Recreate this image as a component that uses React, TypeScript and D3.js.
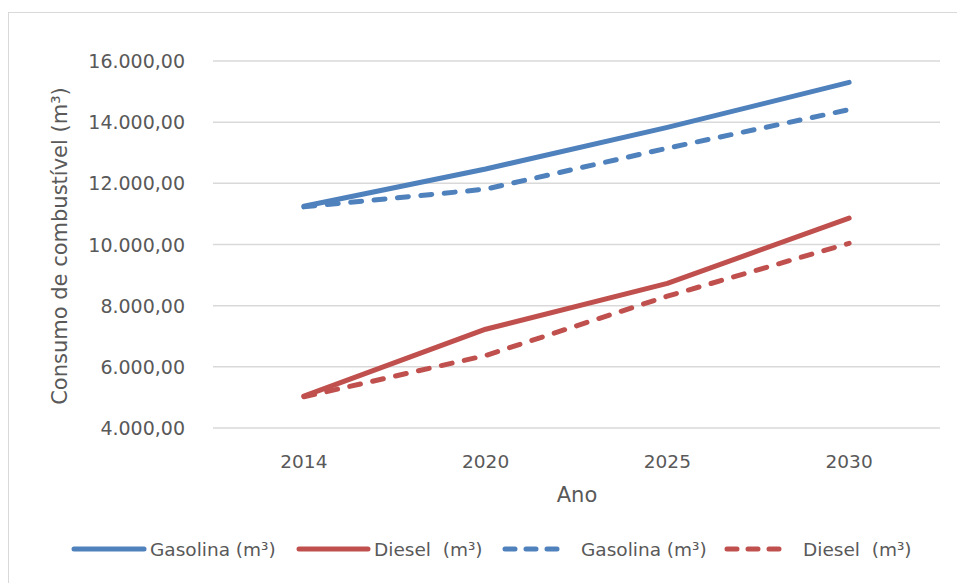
import React from "react";
import * as d3 from "d3";

const years = ["2014", "2020", "2025", "2030"];
const gasolinaSolid = [11250, 12470, 13830, 15300];
const dieselSolid = [5040, 7230, 8730, 10860];
const gasolinaDashed = [11230, 11810, 13150, 14410];
const dieselDashed = [5020, 6370, 8310, 10040];
const yTicks = [4000, 6000, 8000, 10000, 12000, 14000, 16000];
const legendLabels = ["Gasolina (m³)", "Diesel  (m³)", "Gasolina (m³)", "Diesel  (m³)"];

const W = 957;
const H = 583;
const BLUE = "#4F81BD";
const RED = "#C0504D";
const TEXT = "#595959";
const FONT = "DejaVu Sans, sans-serif";

const fmt = (v: number) => {
  const s = d3.format(",.2f")(v);
  return s.replace(/,/g, "#").replace(/\./g, ",").replace(/#/g, ".");
};

export default function App() {
  const x = d3.scalePoint<string>().domain(years).range([213, 940]).padding(0.5);
  const y = d3.scaleLinear().domain([4000, 16000]).range([428, 61]);
  const line = d3
    .line<number>()
    .x((_, i) => x(years[i]) as number)
    .y((d) => y(d));

  const series = [
    { data: gasolinaSolid, color: BLUE, dash: undefined as string | undefined },
    { data: dieselSolid, color: RED, dash: undefined as string | undefined },
    { data: gasolinaDashed, color: BLUE, dash: "11 12.5" },
    { data: dieselDashed, color: RED, dash: "11 12.5" },
  ];

  const legendItems = [
    { lx1: 74, lx2: 144, tx: 150 },
    { lx1: 299, lx2: 368, tx: 374 },
    { lx1: 505, lx2: 565, tx: 581 },
    { lx1: 727, lx2: 789, tx: 803 },
  ];
  const legendY = 549;

  return (
    <svg
      width={W}
      height={H}
      style={{ position: "absolute", left: 0, top: 0, background: "#fff" }}
    >
      <rect x={8.5} y={12.5} width={W} height={H} fill="#fff" stroke="#D9D9D9" strokeWidth={1} />
      {yTicks.map((t) => (
        <g key={t}>
          <line x1={213} x2={940} y1={y(t)} y2={y(t)} stroke="#D9D9D9" strokeWidth={1.5} />
          <text
            x={185}
            y={y(t)}
            textAnchor="end"
            dominantBaseline="central"
            fontFamily={FONT}
            fontSize={19}
            fill={TEXT}
          >
            {fmt(t)}
          </text>
        </g>
      ))}
      {years.map((yr) => (
        <text
          key={yr}
          x={x(yr) as number}
          y={461}
          textAnchor="middle"
          dominantBaseline="central"
          fontFamily={FONT}
          fontSize={18.5}
          fill={TEXT}
        >
          {yr}
        </text>
      ))}
      <text
        x={577}
        y={495}
        textAnchor="middle"
        dominantBaseline="central"
        fontFamily={FONT}
        fontSize={21}
        fill={TEXT}
      >
        Ano
      </text>
      <text
        transform={`translate(60,246) rotate(-90)`}
        textAnchor="middle"
        dominantBaseline="central"
        fontFamily={FONT}
        fontSize={21}
        fill={TEXT}
      >
        Consumo de combustível (m³)
      </text>
      {series.map((s, i) => (
        <path
          key={i}
          d={line(s.data) as string}
          fill="none"
          stroke={s.color}
          strokeWidth={5}
          strokeLinecap="round"
          strokeLinejoin="round"
          strokeDasharray={s.dash}
        />
      ))}
      {legendItems.map((it, i) => (
        <g key={i}>
          <line
            x1={it.lx1}
            x2={it.lx2}
            y1={legendY}
            y2={legendY}
            stroke={series[i].color}
            strokeWidth={5}
            strokeLinecap="round"
            strokeDasharray={series[i].dash ? "10 11" : undefined}
          />
          <text
            x={it.tx}
            y={legendY}
            dominantBaseline="central"
            fontFamily={FONT}
            fontSize={18.5}
            fill={TEXT}
            style={{ whiteSpace: "pre" }}
          >
            {legendLabels[i]}
          </text>
        </g>
      ))}
    </svg>
  );
}
